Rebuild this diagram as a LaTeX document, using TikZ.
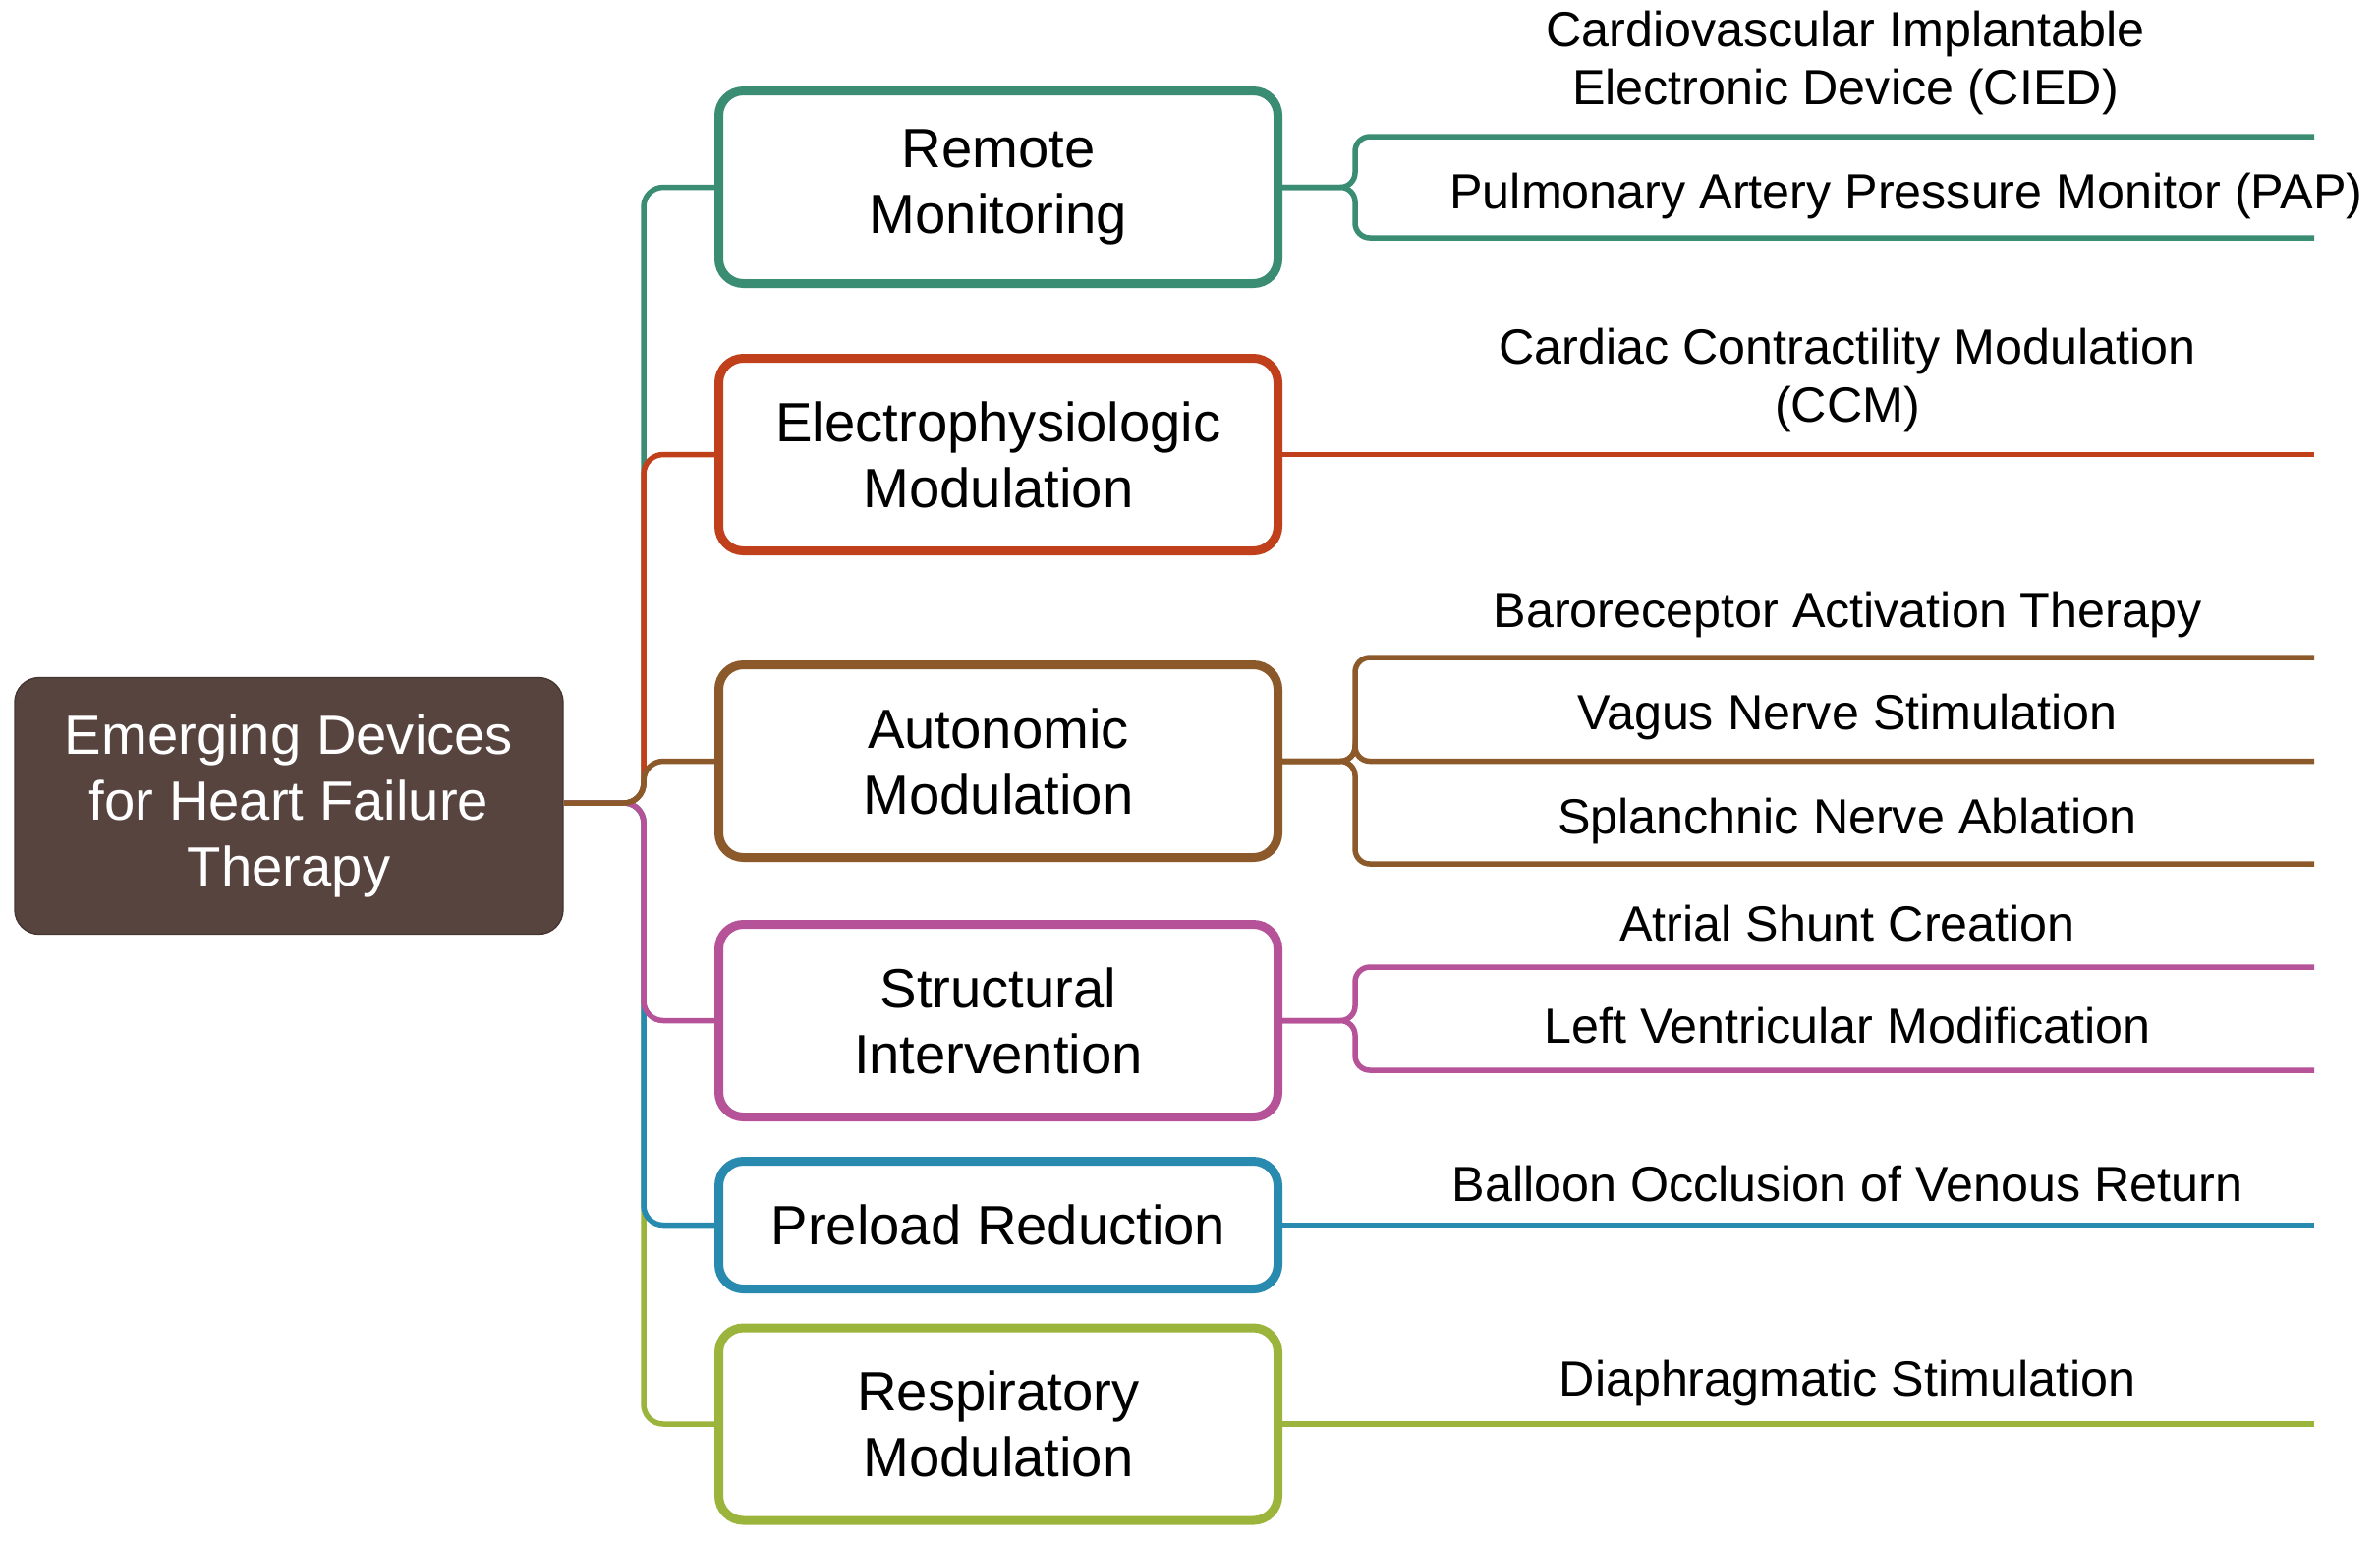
\documentclass[tikz,border=0pt]{standalone}
\usepackage{fontspec}
\setmainfont{Liberation Sans}
\usepackage{tikz}
\usetikzlibrary{positioning}

\definecolor{rootbrown}{RGB}{87,68,63}
\definecolor{rmteal}{RGB}{58,140,115}
\definecolor{epred}{RGB}{192,64,28}
\definecolor{anbrown}{RGB}{140,90,42}
\definecolor{stmagenta}{RGB}{182,82,152}
\definecolor{plblue}{RGB}{40,138,175}
\definecolor{rsgreen}{RGB}{155,180,60}

\tikzset{
  rootbox/.style={rectangle, rounded corners=0.25cm, fill=rootbrown, draw=rootbrown!80!black,
    text=white, align=center, font=\fontsize{16}{19}\selectfont,
    minimum width=5.58cm, minimum height=2.61cm, inner sep=0pt},
  branchbox/.style={rectangle, rounded corners=0.25cm, draw=#1, fill=white, line width=0.09cm,
    align=center, font=\fontsize{16}{19}\selectfont, minimum width=5.69cm, inner sep=0pt},
  leaftext/.style={align=center, font=\fontsize{14.3}{17}\selectfont, inner sep=0pt},
  link/.style={draw=#1, line width=0.055cm, rounded corners=0.2cm},
}

\begin{document}
\begin{tikzpicture}[y=-1cm]
\useasboundingbox (0,0) rectangle (24.22,15.69);

\node[rootbox] (root) at (2.94,8.20) {Emerging Devices\\for Heart Failure\\Therapy};
\coordinate (trunk) at (6.55,8.17);
\coordinate (brk) at (13.79,0);

% main branches
\foreach \name/\y/\h/\col/\txt in {
    remote/1.905/1.96/rmteal/{Remote\\Monitoring},
    electro/4.625/1.96/epred/{Electrophysiologic\\Modulation},
    auton/7.745/1.96/anbrown/{Autonomic\\Modulation},
    struct/10.385/1.96/stmagenta/{Structural\\Intervention},
    preload/12.465/1.30/plblue/{Preload Reduction},
    resp/14.49/1.96/rsgreen/{Respiratory\\Modulation}} {
    \node[branchbox=\col, minimum height=\h cm] (\name) at (10.16,\y) {\txt};
}

% trunk, drawn so the upper colours lie on top near the root
\foreach \name/\col in {remote/rmteal, electro/epred, resp/rsgreen, preload/plblue, struct/stmagenta, auton/anbrown} {
    \draw[link=\col] (root.east |- trunk) -- (trunk) |- (\name.west);
}

% leaves on a bracket
\foreach \leaf/\name/\ly/\col in {
    cied/remote/1.39/rmteal, pap/remote/2.42/rmteal,
    bat/auton/6.69/anbrown, vns/auton/7.745/anbrown, sna/auton/8.79/anbrown,
    asc/struct/9.84/stmagenta, lvm/struct/10.89/stmagenta} {
    \coordinate (\leaf) at (23.55,\ly);
    \draw[link=\col, rounded corners=0.15cm] (\name.east) -- (\name.east -| brk) |- (\leaf);
}

% single leaves
\foreach \leaf/\name/\col in {ccm/electro/epred, bovr/preload/plblue, dias/resp/rsgreen} {
    \coordinate (\leaf) at (23.55,0 |- \name.east);
    \draw[link=\col] (\name.east) -- (\leaf);
}

% leaf texts
\foreach \leaf/\tx/\ty/\txt in {
    cied/18.78/0.64/{Cardiovascular Implantable\\Electronic Device (CIED)},
    pap/19.40/1.99/{Pulmonary Artery Pressure Monitor (PAP)},
    ccm/18.80/3.87/{Cardiac Contractility Modulation\\(CCM)},
    bat/18.80/6.25/{Baroreceptor Activation Therapy},
    vns/18.80/7.29/{Vagus Nerve Stimulation},
    sna/18.80/8.35/{Splanchnic Nerve Ablation},
    asc/18.80/9.40/{Atrial Shunt Creation},
    lvm/18.80/10.44/{Left Ventricular Modification},
    bovr/18.80/12.05/{Balloon Occlusion of Venous Return},
    dias/18.80/14.07/{Diaphragmatic Stimulation}} {
    \node[leaftext] (\leaf-txt) at (\tx,\ty) {\txt};
}
\end{tikzpicture}
\end{document}
